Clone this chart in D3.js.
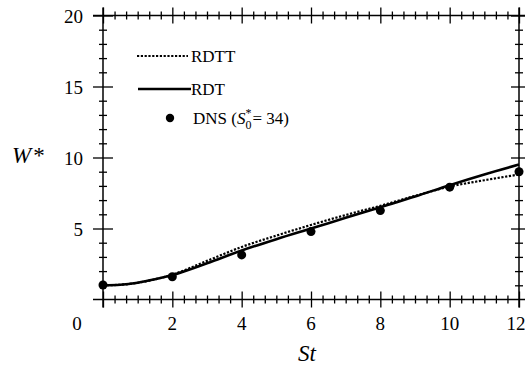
<!DOCTYPE html>
<html>
<head>
<meta charset="utf-8">
<script src="https://cdn.jsdelivr.net/npm/d3@7"></script>
<style>
  body { margin: 0; background: #fff; }
  svg text { font-family: "Times New Roman", Times, "Liberation Serif", "DejaVu Serif", "Noto Serif", serif; }
</style>
</head>
<body>
<div id="chart"></div>
<script>
// St values for curves
const stCurve = [0, 0.5, 1, 1.5, 2, 3, 4, 5, 6, 7, 8, 9, 10, 11, 12];
const rdt  = [1.0, 1.04, 1.18, 1.42, 1.72, 2.55, 3.45, 4.25, 5.0, 5.75, 6.5, 7.25, 8.05, 8.8, 9.5];
const rdtt = [1.0, 1.04, 1.18, 1.42, 1.75, 2.72, 3.7, 4.5, 5.25, 5.95, 6.6, 7.3, 7.95, 8.4, 8.8];

// DNS points
const stDns = [0, 2, 4, 6, 8, 10, 12];
const dns   = [1.02, 1.6, 3.14, 4.78, 6.26, 7.91, 9.0];

const xTicks = [0, 2, 4, 6, 8, 10, 12];
const yTicks = [5, 10, 15, 20];

const width = 525, height = 367;

const svg = d3.select('#chart')
    .append('svg')
    .attr('width', width)
    .attr('height', height);

const x = d3.scaleLinear().domain([0, 12]).range([103, 519]);
const y = d3.scaleLinear().domain([0, 20]).range([299.5, 15.5]);

const xMinor = d3.range(0, 37).map(i => i / 3).filter(v => v % 2 !== 0);
const yMinor = d3.range(0, 21).filter(v => v % 5 !== 0);

// frame lines
const frame = svg.append('g').attr('stroke', '#000').attr('stroke-width', 1.5);
frame.append('line').attr('x1', 93).attr('x2', 525).attr('y1', y(0)).attr('y2', y(0));
frame.append('line').attr('x1', 93).attr('x2', 525).attr('y1', y(20)).attr('y2', y(20));
frame.append('line').attr('x1', x(0)).attr('x2', x(0)).attr('y1', y(20) - 8).attr('y2', y(0) + 8);
frame.append('line').attr('x1', x(12)).attr('x2', x(12)).attr('y1', y(20) - 8).attr('y2', y(0) + 8);

// crossing ticks helper
function crossTicks(axisFn, scale, values, size, pos, vertical) {
    const g = svg.append('g')
        .attr('transform', vertical ? `translate(${pos},0)` : `translate(0,${pos})`)
        .call(axisFn(scale).tickValues(values).tickSize(size).tickSizeOuter(0).tickFormat(''));
    g.select('.domain').remove();
    g.selectAll('.tick line')
        .attr('stroke', '#000')
        .attr('stroke-width', 1.3)
        .attr(vertical ? 'x1' : 'y1', -size);
    return g;
}

crossTicks(d3.axisBottom, x, xTicks, 8, y(0), false);
crossTicks(d3.axisBottom, x, xMinor, 4, y(0), false);
crossTicks(d3.axisBottom, x, xTicks, 8, y(20), false);
crossTicks(d3.axisBottom, x, xMinor, 4, y(20), false);
crossTicks(d3.axisRight, y, yTicks, 10, x(0), true);
crossTicks(d3.axisRight, y, yMinor, 4, x(0), true);
crossTicks(d3.axisRight, y, yTicks, 8, x(12), true);
crossTicks(d3.axisRight, y, yMinor, 4, x(12), true);

// tick labels
svg.append('g')
    .selectAll('text')
    .data(xTicks)
    .join('text')
    .attr('x', d => d === 0 ? x(d) - 26 : (d === 12 ? x(d) - 3 : x(d)))
    .attr('y', 330)
    .attr('text-anchor', 'middle')
    .style('font-size', '19px')
    .text(d => d);

svg.append('g')
    .selectAll('text')
    .data(yTicks)
    .join('text')
    .attr('x', 83)
    .attr('y', d => y(d) + 7)
    .attr('text-anchor', 'end')
    .style('font-size', '19px')
    .text(d => d);

// axis titles
svg.append('text')
    .attr('x', 307)
    .attr('y', 361)
    .attr('text-anchor', 'middle')
    .style('font-size', '23px')
    .style('font-style', 'italic')
    .text('St');

const wLabel = svg.append('text')
    .attr('x', 12)
    .attr('y', 163)
    .style('font-size', '23px');
wLabel.append('tspan').style('font-style', 'italic').text('W');
wLabel.append('tspan').attr('dx', 2).text('*');

// curves
const line = d3.line()
    .x(d => x(d[0]))
    .y(d => y(d[1]))
    .curve(d3.curveMonotoneX);

svg.append('path')
    .datum(stCurve.map((s, i) => [s, rdt[i]]))
    .attr('d', line)
    .attr('fill', 'none')
    .attr('stroke', '#000')
    .attr('stroke-width', 2.6);

svg.append('path')
    .datum(stCurve.map((s, i) => [s, rdtt[i]]))
    .attr('d', line)
    .attr('fill', 'none')
    .attr('stroke', '#000')
    .attr('stroke-width', 2.2)
    .attr('stroke-dasharray', '2.2,1.6');

svg.append('g')
    .selectAll('circle')
    .data(stDns.map((s, i) => [s, dns[i]]))
    .join('circle')
    .attr('cx', d => x(d[0]))
    .attr('cy', d => y(d[1]))
    .attr('r', 4.5)
    .attr('fill', '#000');

// legend
const lg = svg.append('g');
lg.append('line')
    .attr('x1', 137).attr('x2', 188).attr('y1', 56).attr('y2', 56)
    .attr('stroke', '#000').attr('stroke-width', 2.2)
    .attr('stroke-dasharray', '2.2,1.6');
lg.append('text').attr('x', 191).attr('y', 62).style('font-size', '17px').text('RDTT');

lg.append('line')
    .attr('x1', 138).attr('x2', 191).attr('y1', 89).attr('y2', 89)
    .attr('stroke', '#000').attr('stroke-width', 2.6);
lg.append('text').attr('x', 191).attr('y', 95).style('font-size', '17px').text('RDT');

lg.append('circle').attr('cx', 170).attr('cy', 118).attr('r', 4.2).attr('fill', '#000');
const dnsText = lg.append('text').attr('x', 193).attr('y', 124).style('font-size', '17px');
dnsText.append('tspan').text('DNS (');
dnsText.append('tspan').style('font-style', 'italic').text('S');
dnsText.append('tspan').attr('dy', -7).style('font-size', '12px').text('*');
dnsText.append('tspan').attr('dx', -6).attr('dy', 12).style('font-size', '12px').text('0');
dnsText.append('tspan').attr('dy', -5).attr('dx', 1).text('= 34)');
</script>
</body>
</html>
